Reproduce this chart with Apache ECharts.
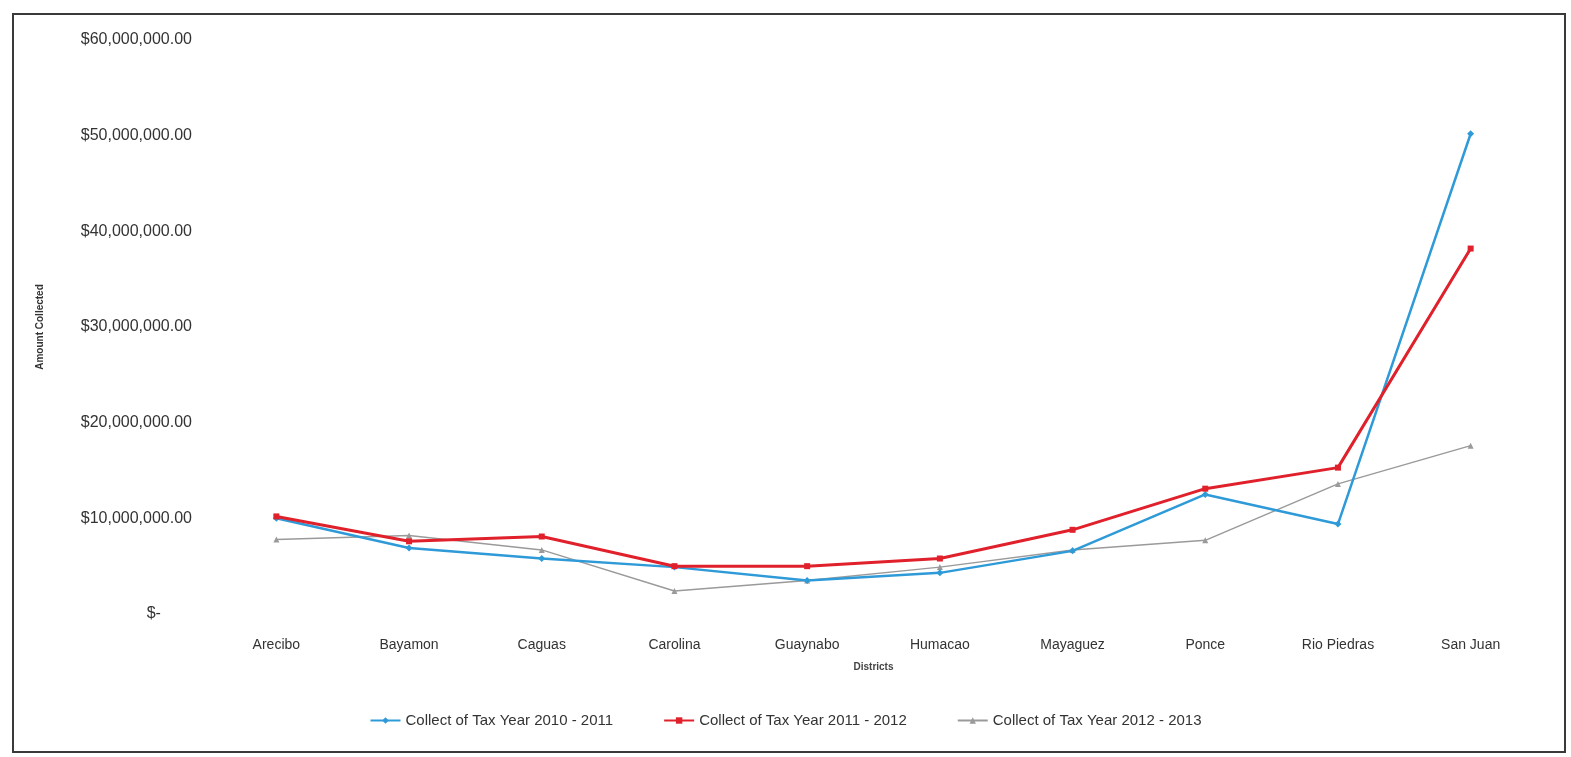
<!DOCTYPE html>
<html>
<head>
<meta charset="utf-8">
<script src="https://cdn.jsdelivr.net/npm/echarts@6/dist/echarts.min.js"></script>
<style>
html, body { margin: 0; padding: 0; background: #fff; }
#container1 { width: 1571px; height: 757px; }
</style>
</head>
<body>
<div id="container1"></div>
<script>
var districts = ['Arecibo', 'Bayamon', 'Caguas', 'Carolina', 'Guaynabo', 'Humacao', 'Mayaguez', 'Ponce', 'Rio Piedras', 'San Juan'];
var tax2010 = [10000000, 6900000, 5800000, 4900000, 3500000, 4300000, 6600000, 12500000, 9400000, 50200000];
var tax2011 = [10200000, 7600000, 8100000, 5000000, 5000000, 5800000, 8800000, 13100000, 15300000, 38200000];
var tax2012 = [7800000, 8200000, 6700000, 2400000, 3500000, 4900000, 6700000, 7700000, 13600000, 17600000];
var seriesNames = ['Collect of Tax Year 2010 - 2011', 'Collect of Tax Year 2011 - 2012', 'Collect of Tax Year 2012 - 2013'];

var dom = document.getElementById("container1");
var myChart = echarts.init(dom);
var font = 'Liberation Sans, Arial';

function money(v) {
    if (v === 0) return '$-       ';
    return '$' + v.toLocaleString('en-US') + '.00';
}

var option = {
    animation: false,
    color: ['#2f9ad8', '#e0202a', '#9a9a9a'],
    graphic: [{
        type: 'rect',
        shape: { x: 13, y: 14, width: 1552, height: 738 },
        style: { fill: 'none', stroke: '#3a3a3a', lineWidth: 2 }
    }],
    grid: {
        left: 210,
        right: 34,
        top: 40,
        bottom: 143
    },
    legend: {
        bottom: 24,
        left: 'center',
        itemGap: 50,
        itemWidth: 30,
        itemHeight: 8,
        textStyle: { fontFamily: font, fontSize: 15, color: '#333' },
        data: seriesNames
    },
    xAxis: {
        type: 'category',
        data: districts,
        name: 'Districts',
        nameLocation: 'middle',
        nameGap: 48,
        nameTextStyle: { fontFamily: font, fontSize: 10, color: '#444', fontWeight: 'bold' },
        axisLine: { show: false },
        axisTick: { show: false },
        axisLabel: { fontFamily: font, fontSize: 14, color: '#333', margin: 24 }
    },
    yAxis: {
        type: 'value',
        min: 0,
        max: 60000000,
        interval: 10000000,
        name: 'Amount Collected',
        nameLocation: 'middle',
        nameGap: 165,
        nameTextStyle: { fontFamily: font, fontSize: 10, color: '#333', fontWeight: 'bold' },
        splitLine: { show: false },
        axisLine: { show: false },
        axisTick: { show: false },
        axisLabel: {
            fontFamily: font, fontSize: 16, color: '#333', margin: 18,
            formatter: money
        }
    },
    series: [
        {
            name: seriesNames[0],
            type: 'line',
            data: tax2010,
            symbol: 'diamond',
            symbolSize: 7,
            lineStyle: { width: 2.5, color: '#2f9ad8' },
            itemStyle: { color: '#2f9ad8' },
            z: 3
        },
        {
            name: seriesNames[1],
            type: 'line',
            data: tax2011,
            symbol: 'rect',
            symbolSize: 6,
            lineStyle: { width: 3, color: '#e0202a' },
            itemStyle: { color: '#e0202a' },
            z: 4
        },
        {
            name: seriesNames[2],
            type: 'line',
            data: tax2012,
            symbol: 'triangle',
            symbolSize: 6,
            lineStyle: { width: 1.5, color: '#9a9a9a' },
            itemStyle: { color: '#9a9a9a' },
            z: 2
        }
    ]
};

if (option && typeof option === "object") {
    myChart.setOption(option, true);
}
</script>
</body>
</html>
